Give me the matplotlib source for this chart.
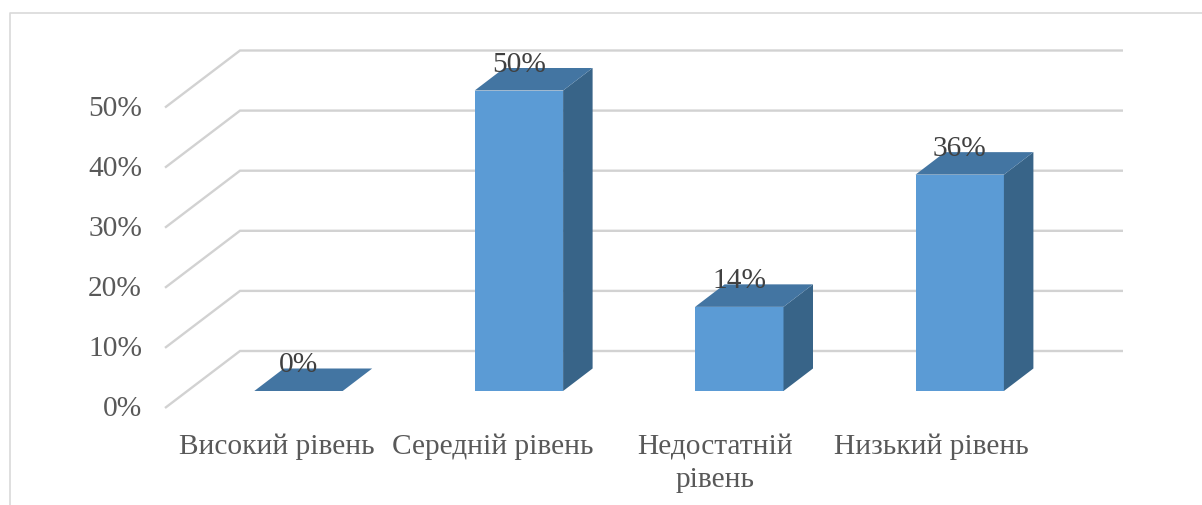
import matplotlib
matplotlib.use("Agg")
import matplotlib.pyplot as plt
from matplotlib.patches import Polygon

# values
categories = ["Високий рівень", "Середній рівень", "Недостатній\nрівень", "Низький рівень"]
values = [0, 50, 14, 36]
value_labels = ["0%", "50%", "14%", "36%"]
y_ticks = [0, 10, 20, 30, 40, 50]
y_tick_labels = ["0%", "10%", "20%", "30%", "40%", "50%"]

W, H = 1202, 506
PX_X = 1 / 220.4  # one category is about 220 px wide
PX_Y = 1 / 6.01   # one percent is about 6 px high
X0 = 298.5        # px of category 0
Y0 = 392          # px of value 0, from the top

plt.rcParams["font.family"] = ["Liberation Serif", "DejaVu Serif"]

fig = plt.figure(figsize=(W / 100, H / 100), dpi=100)
ax = fig.add_axes([0, 0, 1, 1])
ax.set_xlim(-X0 * PX_X, (W - X0) * PX_X)
ax.set_ylim(-(H - Y0) * PX_Y, Y0 * PX_Y)
ax.axis("off")

# outer chart border, only top and left show in the crop
ax.plot([10 / W, 10 / W, 1], [0, 1 - 14 / H, 1 - 14 / H], transform=ax.transAxes,
        color="#D9D9D9", lw=1.2, zorder=1, clip_on=False)

# floor/wall grid lines in the fake 3d perspective
front_x = (165 - X0) * PX_X
back_x = (240 - X0) * PX_X
end_x = (1123 - X0) * PX_X
for t, lab in zip(y_ticks, y_tick_labels):
    fy = t - 17 * PX_Y
    by = t + 40 * PX_Y
    ax.plot([front_x, back_x, end_x], [fy, by, by], color="#D2D2D2", lw=1.7,
            solid_joinstyle="miter", solid_capstyle="butt", zorder=2)
    ax.text((142 - X0) * PX_X, fy + 3 * PX_Y, lab, ha="right", va="center_baseline",
            fontsize=21.2, color="#595959", zorder=5)

# bars
half = 44.2 * PX_X
dx = 29.5 * PX_X
dy = 22.5 * PX_Y
for i, v in enumerate(values):
    left = i - half
    right = i + half
    if v > 0:
        ax.add_patch(Polygon([(left, 0), (right, 0), (right, v), (left, v)], closed=True,
                             facecolor="#5B9BD5", edgecolor="none", zorder=3))
        ax.add_patch(Polygon([(right, 0), (right + dx, dy), (right + dx, v + dy), (right, v)], closed=True,
                             facecolor="#386488", edgecolor="none", zorder=3))
    ax.add_patch(Polygon([(left, v), (right, v), (right + dx, v + dy), (left + dx, v + dy)], closed=True,
                         facecolor="#4375A2", edgecolor="none", zorder=3))
    ax.text(i, v + 30 * PX_Y, value_labels[i], ha="center", va="center_baseline",
            fontsize=21.2, color="#404040", zorder=6)

# category labels are shifted left of the bars, not evenly
label_shift = [-22, -26, -24, -28]
for i, c in enumerate(categories):
    ax.text(i + label_shift[i] * PX_X, -42 * PX_Y, c, ha="center", va="top", fontsize=21.2,
            color="#595959", linespacing=1.35, zorder=5)

fig.savefig("out.png", dpi=100, facecolor="white")
